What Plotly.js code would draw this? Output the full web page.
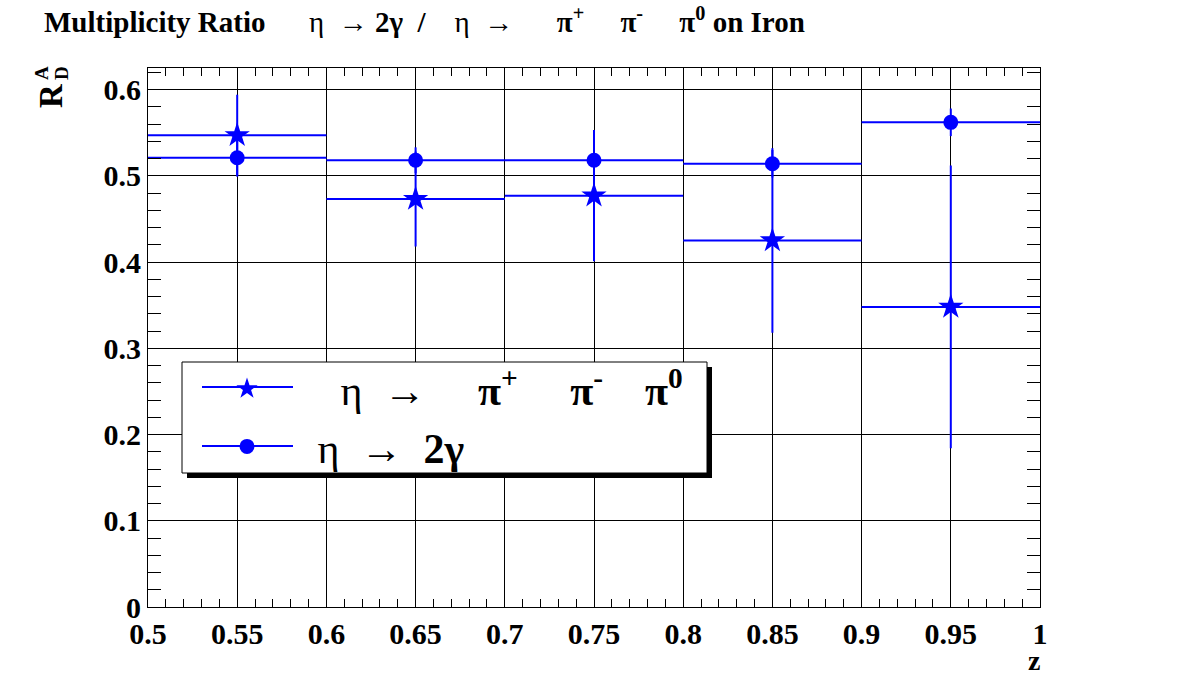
<!DOCTYPE html>
<html>
<head>
<meta charset="utf-8">
<script src="https://cdn.plot.ly/plotly-3.0.1.min.js"></script>
<style>html,body{margin:0;padding:0;background:#fff;}</style>
</head>
<body>
<div id="chart" style="width:1189px;height:676px;"></div>
<script>
// ---- data ----
const zBins      = [0.55, 0.65, 0.75, 0.85, 0.95];
const zHalfWidth = [0.05, 0.05, 0.05, 0.05, 0.05];
const ratio3pi    = [0.547, 0.473, 0.477, 0.425, 0.348];
const ratio3piErr = [0.047, 0.055, 0.076, 0.107, 0.164];
const ratio2g     = [0.521, 0.518, 0.518, 0.514, 0.562];
const ratio2gErr  = [0.022, 0.015, 0.015, 0.016, 0.016];
const xTickVals   = [0.5, 0.55, 0.6, 0.65, 0.7, 0.75, 0.8, 0.85, 0.9, 0.95, 1];
const xTickLabels = ['0.5','0.55','0.6','0.65','0.7','0.75','0.8','0.85','0.9','0.95','1'];
const yTickVals   = [0, 0.1, 0.2, 0.3, 0.4, 0.5, 0.6];
const yTickLabels = ['0','0.1','0.2','0.3','0.4','0.5','0.6'];

const NB = '\u00a0';
const sp = n => NB.repeat(n);
const name3pi = sp(7) + 'η' + sp(2) + '→' + sp(5) + '<b>π</b><sup><b>+</b></sup>' + sp(5) + '<b>π</b><sup><b>-</b></sup>' + sp(4) + '<b>π</b><sup><b>0</b></sup>';
const name2g  = sp(4) + '\u2009η' + sp(2) + '→' + sp(2) + '<b>2γ</b>';

const BLUE = '#0000ff';
const SERIF = 'Liberation Serif, Times New Roman, serif';

// layout helpers (pixel -> paper)
const L = 148, R = 1040, T = 68, B = 607;
const px = v => (v - L) / (R - L);
const py = v => (B - v) / (B - T);

const traces = [
  {
    x: zBins, y: ratio3pi, type: 'scatter', mode: 'markers', name: name3pi,
    legendgroup: 'a',
    marker: {symbol: 'star', size: 19, color: BLUE},
    error_x: {type: 'data', array: zHalfWidth, visible: true, color: BLUE, thickness: 2, width: 0},
    error_y: {type: 'data', array: ratio3piErr, visible: true, color: BLUE, thickness: 2, width: 0}
  },
  {
    x: zBins, y: ratio2g, type: 'scatter', mode: 'markers', name: name2g,
    legendgroup: 'b',
    marker: {symbol: 'circle', size: 15, color: BLUE},
    error_x: {type: 'data', array: zHalfWidth, visible: true, color: BLUE, thickness: 2, width: 0},
    error_y: {type: 'data', array: ratio2gErr, visible: true, color: BLUE, thickness: 2, width: 0}
  }
];

const axisCommon = {
  showline: true, linecolor: '#000', linewidth: 1, mirror: 'ticks',
  showgrid: true, gridcolor: '#000', gridwidth: 1,
  zeroline: false, ticks: 'inside', tickcolor: '#000', tickwidth: 1,
  tickfont: {family: SERIF, size: 30, color: '#000', weight: 'bold'},
  fixedrange: true
};

const titleText = '<b>Multiplicity Ratio</b>' + sp(6) + 'η' + sp(2) + '→' + sp(1) + '<b>2γ</b>' + sp(2) + '<b>/</b>' + sp(4) +
  'η' + sp(2) + '→' + sp(6) + '<b>π<sup>+</sup></b>' + sp(5) + '<b>π<sup>-</sup></b>' + sp(5) + '<b>π<sup>0</sup> on Iron</b>';

const layout = {
  width: 1189, height: 676,
  margin: {l: L, r: 1189 - R, t: T, b: 676 - B, pad: 0},
  paper_bgcolor: '#fff', plot_bgcolor: '#fff',
  showlegend: true,
  title: {
    text: titleText,
    font: {family: SERIF, size: 29, color: '#000'},
    xref: 'container', yref: 'container', x: 44 / 1189, xanchor: 'left', y: 1 - 22 / 676, yanchor: 'middle'
  },
  xaxis: Object.assign({}, axisCommon, {
    range: [0.5, 1], tickvals: xTickVals, ticktext: xTickLabels, ticklen: 0,
    minor: {dtick: 0.01, ticks: 'inside', ticklen: 8, tickcolor: '#000', tickwidth: 1, showgrid: false}
  }),
  yaxis: Object.assign({}, axisCommon, {
    range: [0, 0.625], tickvals: yTickVals, ticktext: yTickLabels, ticklen: 0,
    minor: {dtick: 0.02, ticks: 'inside', ticklen: 13, tickcolor: '#000', tickwidth: 1, showgrid: false}
  }),
  legend: {
    x: px(227), y: py(355), xanchor: 'left', yanchor: 'top',
    bgcolor: 'rgba(0,0,0,0)', borderwidth: 0,
    traceorder: 'grouped', tracegroupgap: 0,
    font: {family: SERIF, size: 42, color: '#000'}
  },
  shapes: [
    {type: 'rect', xref: 'paper', yref: 'paper', x0: px(187), x1: px(712), y0: py(478), y1: py(367),
     fillcolor: '#000', line: {width: 0}, layer: 'above'},
    {type: 'rect', xref: 'paper', yref: 'paper', x0: px(182), x1: px(707), y0: py(473), y1: py(362),
     fillcolor: '#fff', line: {color: '#000', width: 1}, layer: 'above'},
    {type: 'line', xref: 'paper', yref: 'paper', x0: px(202), x1: px(293), y0: py(387), y1: py(387),
     line: {color: BLUE, width: 2}, layer: 'above'},
    {type: 'line', xref: 'paper', yref: 'paper', x0: px(202), x1: px(293), y0: py(446), y1: py(446),
     line: {color: BLUE, width: 2}, layer: 'above'}
  ],
  annotations: [
    {text: '<b>R</b>', xref: 'paper', yref: 'paper', x: px(51), y: py(96), textangle: -90,
     showarrow: false, font: {family: SERIF, size: 33, color: '#000'}, xanchor: 'center', yanchor: 'middle'},
    {text: '<b>A</b>', xref: 'paper', yref: 'paper', x: px(41), y: py(73), textangle: -90,
     showarrow: false, font: {family: SERIF, size: 19, color: '#000'}, xanchor: 'center', yanchor: 'middle'},
    {text: '<b>D</b>', xref: 'paper', yref: 'paper', x: px(61), y: py(73), textangle: -90,
     showarrow: false, font: {family: SERIF, size: 19, color: '#000'}, xanchor: 'center', yanchor: 'middle'},
    {text: '<b>z</b>', xref: 'paper', yref: 'paper', x: px(1034), y: py(660),
     showarrow: false, font: {family: SERIF, size: 28, color: '#000'}, xanchor: 'center', yanchor: 'middle'}
  ]
};

Plotly.newPlot('chart', traces, layout, {displayModeBar: false, staticPlot: true});
</script>
</body>
</html>
